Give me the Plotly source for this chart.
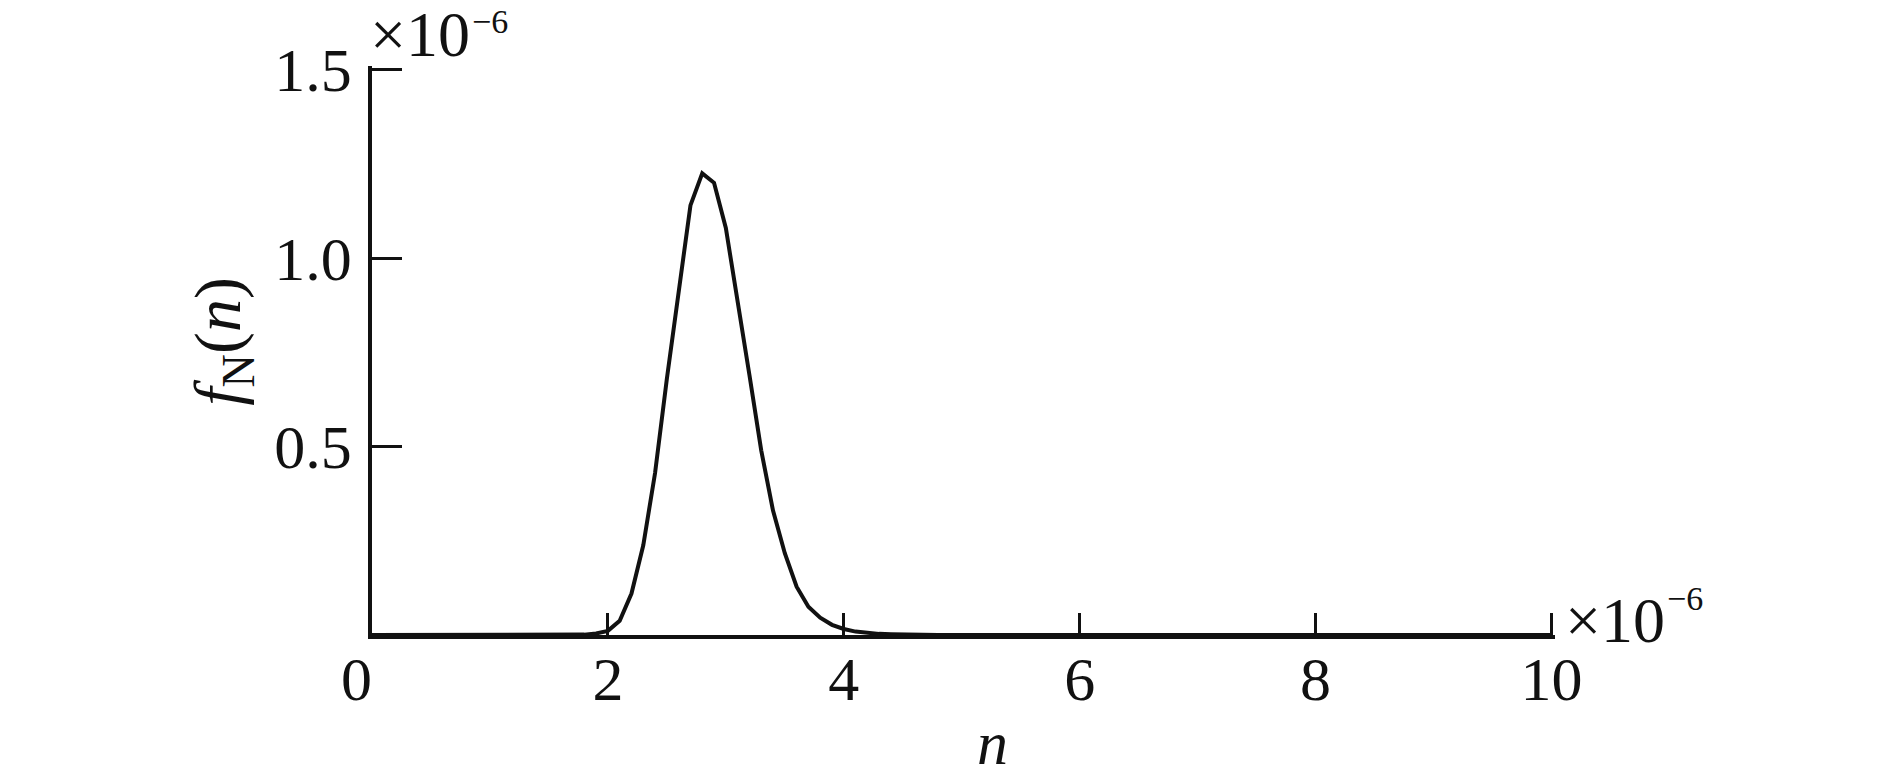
import numpy as np
import plotly.graph_objects as go

# n values (in units of 1e-6)
n_vals = [round(0.1 * i, 1) for i in range(0, 101)]

# f_N(n) values (in units of 1e-6)
peak_n = [1.8, 1.9, 2.0, 2.1, 2.2, 2.3, 2.4, 2.5, 2.6, 2.7, 2.8, 2.9, 3.0,
          3.1, 3.2, 3.3, 3.4, 3.5, 3.6, 3.7, 3.8, 3.9, 4.0, 4.1, 4.2, 4.3,
          4.4, 4.5]
peak_f = [0.001, 0.004, 0.011, 0.038, 0.110, 0.238, 0.43, 0.68, 0.92, 1.14,
          1.225, 1.20, 1.08, 0.89, 0.69, 0.49, 0.33, 0.217, 0.128, 0.075,
          0.046, 0.027, 0.016, 0.009, 0.005, 0.003, 0.002, 0.001]

lookup = dict(zip(peak_n, peak_f))
f_vals = [lookup.get(v, 0.0) for v in n_vals]

x_ticks = [0, 2, 4, 6, 8, 10]
x_ticktext = ["0\u00a0\u00a0", "2", "4", "6", "8", "10"]
y_ticks = [0.5, 1.0, 1.5]
y_ticktext = ["0.5", "1.0", "1.5"]

FONT = "Liberation Serif, Times New Roman, serif"
fsize = 62
INK = "#111111"

fig = go.Figure()
fig.add_trace(go.Scatter(x=n_vals, y=f_vals, mode="lines",
                         line=dict(color=INK, width=4),
                         showlegend=False, hoverinfo="skip"))

fig.update_layout(
    width=1881, height=759,
    margin=dict(l=364, r=334, t=58, b=132),
    paper_bgcolor="white", plot_bgcolor="white",
    font=dict(family=FONT, size=fsize, color=INK),
)

fig.update_xaxes(range=[0, 10.03], tickvals=x_ticks, ticktext=x_ticktext,
                 showgrid=False, zeroline=False,
                 showline=True, linecolor=INK, linewidth=4,
                 ticks="inside", ticklen=22, tickwidth=2.5, tickcolor=INK,
                 ticklabelstandoff=-13,
                 tickfont=dict(family=FONT, size=fsize, color=INK))
fig.update_yaxes(range=[0, 1.51], tickvals=y_ticks, ticktext=y_ticktext,
                 showgrid=False, zeroline=False,
                 showline=True, linecolor=INK, linewidth=3.5,
                 ticks="inside", ticklen=30, tickwidth=2.5, tickcolor=INK,
                 ticklabelstandoff=4,
                 tickfont=dict(family=FONT, size=fsize, color=INK))

# exponent labels (top-left, for the y axis)
fig.add_annotation(xref="paper", yref="paper", x=0.0, y=1.0,
                   xanchor="left", yanchor="middle", xshift=-4, yshift=32,
                   text="×10", showarrow=False,
                   font=dict(family=FONT, size=64, color=INK))
fig.add_annotation(xref="paper", yref="paper", x=0.0, y=1.0,
                   xanchor="left", yanchor="middle", xshift=98, yshift=45,
                   text="−6", showarrow=False,
                   font=dict(family=FONT, size=34, color=INK))
# exponent labels (bottom-right, for the x axis)
fig.add_annotation(xref="paper", yref="paper", x=1.0, y=0.0,
                   xanchor="left", yanchor="middle", xshift=8, yshift=15,
                   text="×10", showarrow=False,
                   font=dict(family=FONT, size=64, color=INK))
fig.add_annotation(xref="paper", yref="paper", x=1.0, y=0.0,
                   xanchor="left", yanchor="middle", xshift=110, yshift=37,
                   text="−6", showarrow=False,
                   font=dict(family=FONT, size=34, color=INK))

# axis titles
fig.add_annotation(xref="paper", yref="paper", x=-0.126, y=0.517,
                   xanchor="center", yanchor="middle", textangle=-90,
                   text="<i>f</i><sub>N</sub>(<i>n</i>)", showarrow=False,
                   font=dict(family=FONT, size=66, color=INK))
fig.add_annotation(xref="paper", yref="paper", x=0.5246, y=-0.19,
                   xanchor="center", yanchor="middle",
                   text="<i>n</i>", showarrow=False,
                   font=dict(family=FONT, size=fsize, color=INK))

fig.write_html("out.html")
